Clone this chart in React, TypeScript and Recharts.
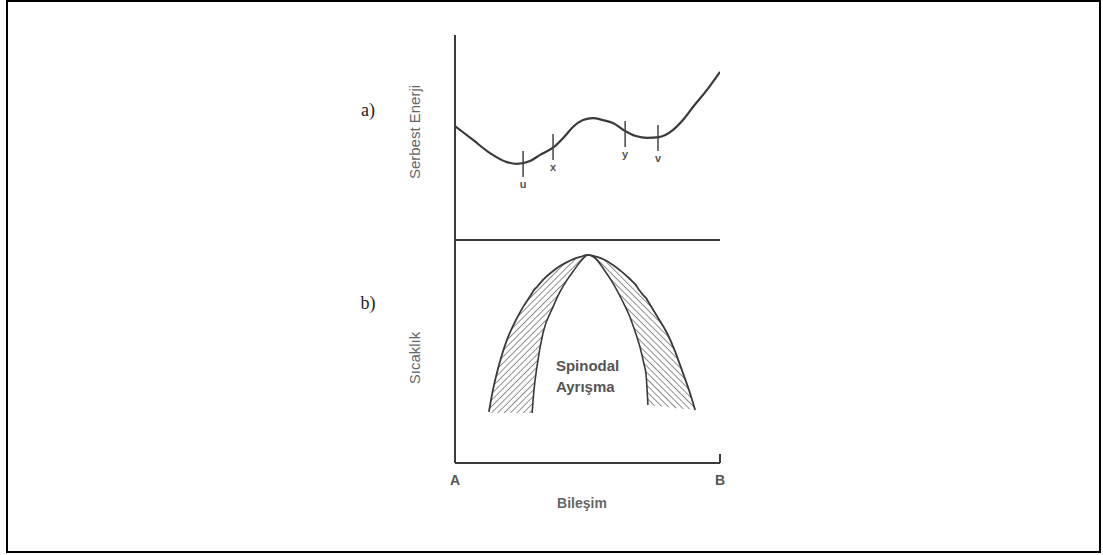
import React from 'react'
import {
  ComposedChart,
  Line,
  Area,
  Scatter,
  XAxis,
  YAxis,
  Label,
  ReferenceDot,
  ReferenceLine,
} from 'recharts'

// panel a: free energy vs composition (A = 0, B = 100)
const energyX = [0, 6.8, 13.2, 19.6, 23.4, 28.3, 32.1, 37.4, 41.5, 44.5, 48.3, 52.1, 55.8, 59.6, 64.2, 68.3, 72.5, 77.0, 82.3, 86.0, 89.8, 95.1, 100]
const energyY = [55.6, 48.8, 42.4, 38.0, 37.1, 38.5, 41.5, 45.4, 50.7, 55.1, 58.5, 59.5, 58.5, 57.1, 53.2, 50.7, 49.8, 50.2, 53.7, 58.5, 64.9, 73.2, 82.0]

const markerNames = ['u', 'x', 'y', 'v']
const markerX = [25.7, 37.0, 64.2, 76.6]
const markerY = [37.6, 45.9, 52.2, 50.2]

// panel b: spinodal dome, two hatched bands (top / bottom edge at each x)
const leftBandX = [12.8, 14.3, 15.8, 17.7, 19.6, 22.6, 25.7, 29.1, 29.8, 30.9, 33.2, 37.0, 39.6, 42.3, 44.9, 47.2, 50.2]
const leftBandTop = [22.9, 32.7, 40.4, 48.4, 55.2, 63.2, 70.0, 76.2, 77.6, 78.9, 82.1, 86.1, 88.3, 90.1, 91.5, 92.4, 93.3]
const leftBandBottom = [22.9, 22.4, 22.4, 22.4, 22.4, 22.4, 22.4, 22.4, 32.7, 43.0, 58.3, 70.0, 76.7, 82.1, 86.5, 90.1, 93.3]

const rightBandX = [50.2, 53.6, 56.6, 59.6, 63.0, 66.0, 67.9, 69.8, 71.3, 72.1, 72.8, 76.2, 80.0, 83.0, 86.0, 88.3, 90.6]
const rightBandTop = [93.3, 92.4, 91.0, 88.8, 85.7, 82.5, 80.3, 77.1, 74.9, 74.0, 72.6, 65.9, 58.3, 50.2, 40.4, 32.7, 23.8]
const rightBandBottom = [93.3, 91.0, 86.1, 80.7, 73.1, 65.5, 59.2, 52.0, 44.4, 39.5, 26.0, 25.6, 25.1, 24.7, 24.2, 24.2, 23.8]

const sans = '"Liberation Sans", Arial, sans-serif'
const serif = '"Liberation Serif", "Times New Roman", serif'
const ink = '#3a3a3a'

const energyData = energyX.map((x, i) => ({ x, y: energyY[i] }))
const markerData = markerX.map((x, i) => ({ x, y: markerY[i], name: markerNames[i] }))
const leftBand = leftBandX.map((x, i) => ({ x, band: [leftBandBottom[i], leftBandTop[i]] }))
const rightBand = rightBandX.map((x, i) => ({ x, band: [rightBandBottom[i], rightBandTop[i]] }))
const outerCurve = [
  ...leftBandX.map((x, i) => ({ x, y: leftBandTop[i] })),
  ...rightBandX.slice(1).map((x, i) => ({ x, y: rightBandTop[i + 1] })),
]
const innerCurve = [
  ...leftBandX.map((x, i) => ({ x, y: leftBandBottom[i] })).filter((d) => d.x >= 29.1),
  ...rightBandX.map((x, i) => ({ x, y: rightBandBottom[i] })).filter((d) => d.x > 50.2 && d.x <= 72.8),
]

const W = 1103
const margin = { left: 454, right: 383 }
const axisLine = { stroke: '#3a3a3a', strokeWidth: 2 }

function MarkerShape(props: any) {
  const { cx, cy, payload } = props
  return (
    <g>
      <line x1={cx} x2={cx} y1={cy - 12} y2={cy + 14} stroke="#444" strokeWidth={1.5} />
      <text x={cx} y={cy + 25} textAnchor="middle" fontSize={11} fontWeight="bold" fill="#555" fontFamily={sans}>
        {payload.name}
      </text>
    </g>
  )
}

function yTitle(text: string, cy: number, side: string, sideY: number) {
  return () => (
    <g>
      <text
        transform={`translate(420, ${cy}) rotate(-90)`}
        textAnchor="middle"
        fontSize={15}
        fill="#666"
        fontFamily={sans}
      >
        {text}
      </text>
      <text x={368} y={sideY} textAnchor="middle" fontSize={18} fill="#222" fontFamily={serif}>
        {side}
      </text>
    </g>
  )
}

export default function App() {
  return (
    <div style={{ position: 'absolute', left: 0, top: 0, width: W, height: 555, background: '#fff' }}>
      <div
        style={{
          position: 'absolute',
          left: 6,
          top: 0,
          width: 1095,
          height: 553,
          border: '2px solid #000',
          boxSizing: 'border-box',
        }}
      />

      {/* a) Serbest Enerji */}
      <div style={{ position: 'absolute', left: 0, top: 0 }}>
        <ComposedChart width={W} height={260} margin={{ ...margin, top: 35, bottom: 19 }}>
          <XAxis type="number" dataKey="x" domain={[0, 100]} height={1} tick={false} tickLine={false} axisLine={axisLine} allowDataOverflow />
          <YAxis type="number" domain={[0, 100]} width={1} tick={false} tickLine={false} axisLine={axisLine} allowDataOverflow>
            <Label content={yTitle('Serbest Enerji', 132, 'a)', 116)} />
          </YAxis>
          <Line data={energyData} dataKey="y" type="monotone" stroke={ink} strokeWidth={2.2} dot={false} isAnimationActive={false} />
          <Scatter data={markerData} dataKey="y" shape={MarkerShape} isAnimationActive={false} />
        </ComposedChart>
      </div>

      {/* b) Sicaklik */}
      <div style={{ position: 'absolute', left: 0, top: 0 }}>
        <ComposedChart width={W} height={555} margin={{ ...margin, top: 240, bottom: 91 }}>
          <defs>
            <pattern id="hatchL" patternUnits="userSpaceOnUse" width={4.5} height={4.5} patternTransform="rotate(45)">
              <line x1={0} y1={0} x2={0} y2={4.5} stroke="#555" strokeWidth={1.3} />
            </pattern>
            <pattern id="hatchR" patternUnits="userSpaceOnUse" width={4.5} height={4.5} patternTransform="rotate(-45)">
              <line x1={0} y1={0} x2={0} y2={4.5} stroke="#555" strokeWidth={1.3} />
            </pattern>
          </defs>
          <XAxis
            type="number"
            dataKey="x"
            domain={[0, 100]}
            ticks={[0, 100]}
            tickFormatter={(v: number) => (v === 0 ? 'A' : 'B')}
            tick={{ fontSize: 14, fontWeight: 'bold', fill: '#555', fontFamily: sans }}
            tickLine={false}
            tickSize={0}
            tickMargin={12}
            height={1}
            axisLine={axisLine}
            allowDataOverflow
          >
            <Label
              content={() => (
                <text x={582} y={508} textAnchor="middle" fontSize={14} fontWeight="bold" fill="#666" fontFamily={sans}>
                  Bileşim
                </text>
              )}
            />
          </XAxis>
          <YAxis type="number" domain={[0, 100]} width={1} tick={false} tickLine={false} axisLine={axisLine} allowDataOverflow>
            <Label content={yTitle('Sıcaklık', 358, 'b)', 309)} />
          </YAxis>
          <Area data={leftBand} dataKey="band" type="monotone" stroke="none" fill="url(#hatchL)" fillOpacity={1} isAnimationActive={false} />
          <Area data={rightBand} dataKey="band" type="monotone" stroke="none" fill="url(#hatchR)" fillOpacity={1} isAnimationActive={false} />
          <Line data={outerCurve} dataKey="y" type="monotone" stroke={ink} strokeWidth={1.8} dot={false} isAnimationActive={false} />
          <Line data={innerCurve} dataKey="y" type="monotone" stroke={ink} strokeWidth={1.6} dot={false} isAnimationActive={false} />
          <ReferenceLine
            segment={[{ x: 100, y: 0 }, { x: 100, y: 4 }]}
            stroke="#3a3a3a"
            strokeWidth={2}
            ifOverflow="visible"
          />
          <ReferenceDot
            x={38.1}
            y={44}
            r={0}
            ifOverflow="visible"
            shape={(p: any) => (
              <g fontFamily={sans} fontSize={15} fontWeight="bold" fill="#555">
                <text x={p.cx} y={p.cy + 6}>Spinodal</text>
                <text x={p.cx} y={p.cy + 27}>Ayrışma</text>
              </g>
            )}
          />
        </ComposedChart>
      </div>
    </div>
  )
}
